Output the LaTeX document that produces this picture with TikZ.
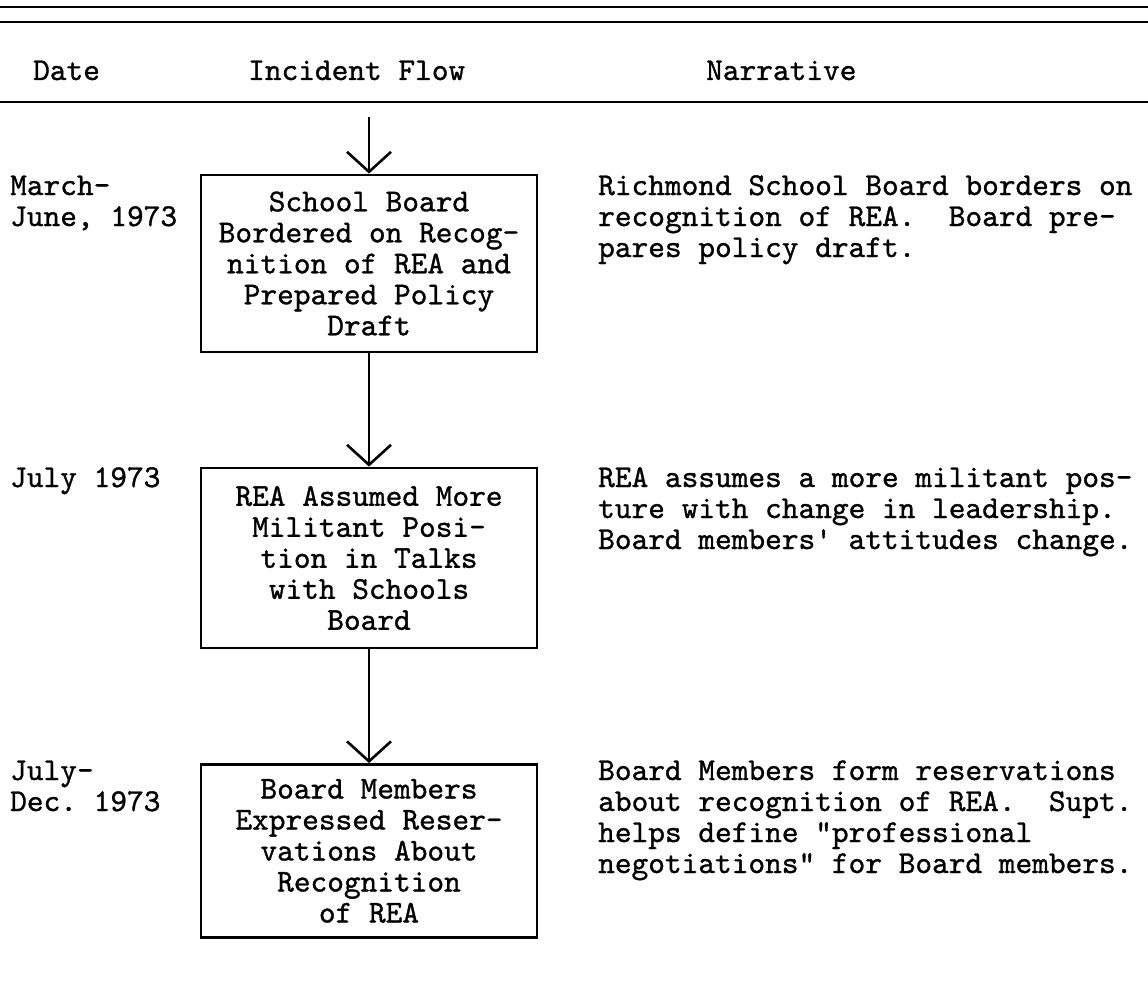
\documentclass[tikz,border=0pt]{standalone}
\usepackage{fontspec}
\newfontfamily\tw{lmmono10-regular.otf}[FakeBold=1.0]
\usetikzlibrary{arrows.meta}
\begin{document}
\begin{tikzpicture}[x=1pt,y=-1pt,
  txt/.style={font=\tw\fontsize{31.8}{31}\selectfont, inner sep=0pt, align=left, anchor=base west},
  flowbox/.style={draw, line width=2.8pt, minimum width=336pt, inner sep=0pt,
     font=\tw\fontsize{31.8}{31}\selectfont, align=center},
  rule/.style={line width=2.3pt},
  flow/.style={line width=2.8pt, -{Straight Barb[length=20pt,width=44pt,line width=2.6pt]}}
]
\frenchspacing
\useasboundingbox (0,0) rectangle (1148,990);
% rules
\draw[rule] (0,7) -- (1148,7);
\draw[rule] (0,22) -- (1148,22);
\draw[rule] (0,102) -- (1148,102);
% headers
\node[txt] (hdate) at (33,80) {Date};
\node[txt] (hflow) at (248,80) {Incident Flow};
\node[txt] (hnarr) at (706,80) {Narrative};
% boxes
\node[flowbox, minimum height=177pt] (b1) at (369,263.5)
  {School Board\\Bordered on Recog-\\nition of REA and\\Prepared Policy\\Draft};
\node[flowbox, minimum height=180pt] (b2) at (369,558)
  {REA Assumed More\\Militant Posi-\\tion in Talks\\with Schools\\Board};
\node[flowbox, minimum height=173pt] (b3) at (369,851)
  {Board Members\\Expressed Reser-\\vations About\\Recognition\\of REA};
% arrows
\coordinate (start) at (369,117);
\draw[flow] (start) -- (b1.north);
\draw[flow] (b1.south) -- (b2.north);
\draw[flow] (b2.south) -- (b3.north);
% dates (anchor = baseline of last line)
\node[txt] (d1) at (10,226) {March-\\June, 1973};
\node[txt] (d2) at (10,487) {July 1973};
\node[txt] (d3) at (10,811) {July-\\Dec. 1973};
% narratives
\node[txt] (n1) at (598,257) {Richmond School Board borders on\\recognition of REA.\ \ Board pre-\\pares policy draft.};
\node[txt] (n2) at (598,549) {REA assumes a more militant pos-\\ture with change in leadership.\\Board members' attitudes change.};
\node[txt] (n3) at (598,873) {Board Members form reservations\\about recognition of REA.\ \ Supt.\\helps define "professional\\negotiations" for Board members.};
\end{tikzpicture}
\end{document}
